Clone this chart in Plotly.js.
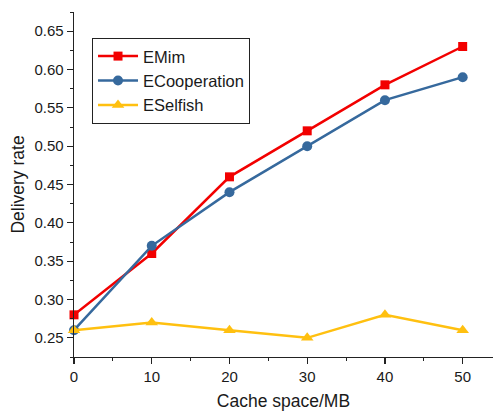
<!DOCTYPE html>
<html><head><meta charset="utf-8">
<script src="https://cdn.plot.ly/plotly-3.0.1.min.js"></script>
<style>html,body{margin:0;padding:0;background:#fff}#c{width:494px;height:414px}</style>
</head><body><div id="c"></div>
<script>
var cacheMB = [0, 10, 20, 30, 40, 50];
var eMim = [0.28, 0.36, 0.46, 0.52, 0.58, 0.63];
var eCooperation = [0.26, 0.37, 0.44, 0.50, 0.56, 0.59];
var eSelfish = [0.26, 0.27, 0.26, 0.25, 0.28, 0.26];
var xTicks = [0, 10, 20, 30, 40, 50];
var yTicks = [0.25, 0.30, 0.35, 0.40, 0.45, 0.50, 0.55, 0.60, 0.65];

var traces = [
  {x: cacheMB, y: eMim, name: 'EMim', mode: 'lines+markers', cliponaxis: false,
   line: {color: '#f20000', width: 2.5}, marker: {symbol: 'square', size: 9, color: '#f20000'}},
  {x: cacheMB, y: eCooperation, name: 'ECooperation', mode: 'lines+markers', cliponaxis: false,
   line: {color: '#36699d', width: 2.5}, marker: {symbol: 'circle', size: 10, color: '#36699d'}},
  {x: cacheMB, y: eSelfish, name: 'ESelfish', mode: 'lines+markers', cliponaxis: false,
   line: {color: '#ffc010', width: 2.5}, marker: {symbol: 'triangle-up', size: 11, color: '#ffc010'}}
];
var font = 'Liberation Sans, Arial, sans-serif';
var layout = {
  width: 494, height: 414,
  margin: {l: 74, r: 1, t: 12, b: 57},
  paper_bgcolor: '#fff', plot_bgcolor: '#fff',
  font: {family: font, color: '#1a1a1a', size: 15},
  showlegend: true,
  legend: {x: 0.043, y: 0.925, xanchor: 'left', yanchor: 'top', bgcolor: '#fff',
           bordercolor: '#222', borderwidth: 1, font: {size: 16.5, family: font, color: '#1a1a1a'},
           tracegroupgap: 0, itemwidth: 40},
  xaxis: {range: [0, 53.9], tickvals: xTicks, ticks: 'outside', ticklen: 6, tickwidth: 1.3,
          tickcolor: '#222', showline: true, linecolor: '#222', linewidth: 1.3, showgrid: false,
          zeroline: false, tickfont: {size: 15},
          minor: {dtick: 5, tick0: 5, ticks: 'outside', ticklen: 3, tickcolor: '#222', tickwidth: 1},
          title: {text: 'Cache space/MB', font: {size: 17.5}, standoff: 10}},
  yaxis: {range: [0.225, 0.675], tickvals: yTicks, tickformat: '.2f', ticks: 'outside', ticklen: 6,
          tickwidth: 1.3, tickcolor: '#222', showline: true, linecolor: '#222', linewidth: 1.3,
          showgrid: false, zeroline: false, tickfont: {size: 15},
          minor: {dtick: 0.025, tick0: 0.225, ticks: 'outside', ticklen: 3, tickcolor: '#222', tickwidth: 1},
          title: {text: 'Delivery rate', font: {size: 17.5}, standoff: 5}}
};
Plotly.newPlot('c', traces, layout, {displayModeBar: false, staticPlot: true});
</script></body></html>
